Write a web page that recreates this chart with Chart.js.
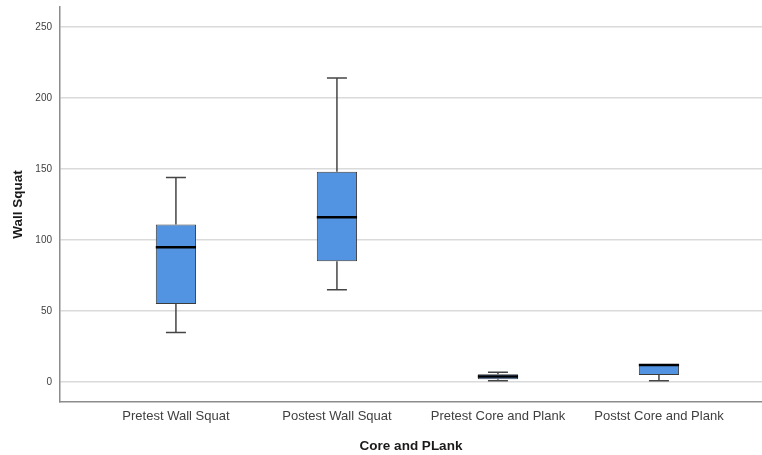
<!DOCTYPE html>
<html lang="en">
<head>
    <meta charset="UTF-8">
    <title>Wall Squat / Core and Plank boxplot</title>
    <script src="https://cdn.jsdelivr.net/npm/chart.js"></script>
    <style>
        html, body { margin: 0; padding: 0; background: #fff; }
        #wrap { width: 762px; height: 455px; }
    </style>
</head>
<body>
    <div id="wrap"><canvas id="boxChart"></canvas></div>
    <script>
        // Data for the boxplot
        var categories = ['Pretest Wall Squat', 'Postest Wall Squat', 'Pretest Core and Plank', 'Postst Core and Plank'];
        var whiskerMin = [35, 65, 1, 1];
        var q1 = [55, 85, 2, 5];
        var median = [95, 116, 4, 12];
        var q3 = [111, 148, 5.5, 12];
        var whiskerMax = [144, 214, 7, 12];
        var yTicks = [0, 50, 100, 150, 200, 250];

        var boxData = categories.map(function (c, i) {
            return { x: i, y: [q1[i], q3[i]] };
        });

        // whiskers + median drawn with the chart's own scales
        var boxParts = {
            id: 'boxParts',
            afterDatasetsDraw: function (chart) {
                var ctx = chart.ctx;
                var xs = chart.scales.x, ys = chart.scales.y;
                var bars = chart.getDatasetMeta(0).data;
                ctx.save();
                for (var i = 0; i < categories.length; i++) {
                    var cx = xs.getPixelForValue(i);
                    var half = bars[i].width / 2;
                    var cap = 10;
                    ctx.strokeStyle = '#454545';
                    ctx.lineWidth = 1.5;
                    ctx.beginPath();
                    if (whiskerMax[i] > q3[i]) {
                        ctx.moveTo(cx, ys.getPixelForValue(q3[i]));
                        ctx.lineTo(cx, ys.getPixelForValue(whiskerMax[i]));
                        ctx.moveTo(cx - cap, ys.getPixelForValue(whiskerMax[i]));
                        ctx.lineTo(cx + cap, ys.getPixelForValue(whiskerMax[i]));
                    }
                    if (whiskerMin[i] < q1[i]) {
                        ctx.moveTo(cx, ys.getPixelForValue(q1[i]));
                        ctx.lineTo(cx, ys.getPixelForValue(whiskerMin[i]));
                        ctx.moveTo(cx - cap, ys.getPixelForValue(whiskerMin[i]));
                        ctx.lineTo(cx + cap, ys.getPixelForValue(whiskerMin[i]));
                    }
                    ctx.stroke();
                    ctx.strokeStyle = '#000';
                    ctx.lineWidth = 2.5;
                    ctx.beginPath();
                    ctx.moveTo(cx - half, ys.getPixelForValue(median[i]));
                    ctx.lineTo(cx + half, ys.getPixelForValue(median[i]));
                    ctx.stroke();
                }
                ctx.restore();
            }
        };

        var ctx = document.getElementById('boxChart').getContext('2d');
        var boxChart = new Chart(ctx, {
            type: 'bar',
            data: {
                datasets: [{
                    data: boxData,
                    backgroundColor: '#5294e2',
                    borderColor: '#3c3c3c',
                    borderWidth: 1,
                    borderSkipped: false,
                    barPercentage: 0.25,
                    categoryPercentage: 1
                }]
            },
            options: {
                responsive: true,
                maintainAspectRatio: false,
                animation: false,
                layout: { padding: { top: 7, left: 0, right: 0, bottom: 0 } },
                plugins: {
                    legend: { display: false },
                    tooltip: { enabled: false }
                },
                scales: {
                    x: {
                        type: 'linear',
                        offset: false,
                        min: -0.72,
                        max: 3.64,
                        afterBuildTicks: function (scale) {
                            scale.ticks = categories.map(function (c, i) { return { value: i }; });
                        },
                        afterFit: function (scale) {
                            scale.height = 53;
                            scale.paddingLeft = 0;
                            scale.paddingRight = 0;
                        },
                        grid: { display: true, color: 'rgba(0,0,0,0)', drawTicks: false },
                        border: { display: true, color: '#8c8c8c', width: 1.5 },
                        ticks: {
                            padding: 7,
                            autoSkip: false,
                            maxRotation: 0,
                            color: '#404040',
                            font: { family: 'Liberation Sans', size: 13 },
                            callback: function (v) { return categories[v]; }
                        },
                        title: {
                            display: true,
                            text: 'Core and PLank',
                            color: '#1a1a1a',
                            padding: { top: 12, bottom: 1 },
                            font: { family: 'Liberation Sans', size: 13.5, weight: 'bold' }
                        }
                    },
                    y: {
                        min: -14,
                        max: 264,
                        afterBuildTicks: function (scale) {
                            scale.ticks = yTicks.map(function (v) { return { value: v }; });
                        },
                        afterFit: function (scale) {
                            scale.width = 60;
                            scale.paddingTop = 0;
                            scale.paddingBottom = 0;
                        },
                        grid: { color: '#dadada', lineWidth: 1.5, drawTicks: false },
                        border: { display: true, color: '#8c8c8c', width: 1.5 },
                        ticks: {
                            padding: 8,
                            color: '#404040',
                            font: { family: 'Liberation Sans', size: 10 }
                        },
                        title: {
                            display: true,
                            text: 'Wall Squat',
                            color: '#1a1a1a',
                            padding: { top: 10, bottom: 8 },
                            font: { family: 'Liberation Sans', size: 13.5, weight: 'bold' }
                        }
                    }
                }
            },
            plugins: [boxParts]
        });
    </script>
</body>
</html>
